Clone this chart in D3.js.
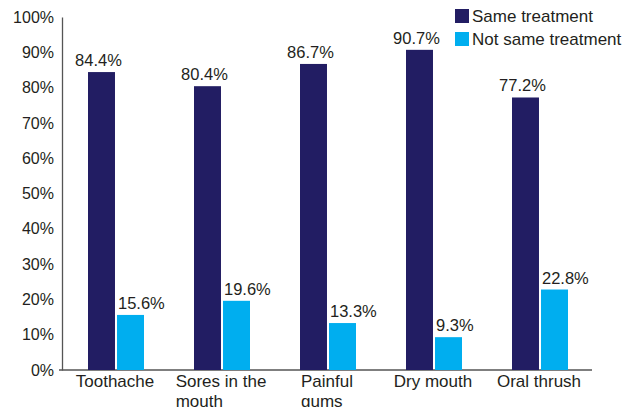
<!DOCTYPE html>
<html>
<head>
<meta charset="utf-8">
<script src="https://cdn.jsdelivr.net/npm/d3@7"></script>
<style>
  body { margin: 0; background: #fff; }
  text { font-family: "Liberation Sans", Arial, sans-serif; fill: #231f20; }
</style>
</head>
<body>
<div class="main"></div>
<script>
var categories = ["Toothache", "Sores in the mouth", "Painful gums", "Dry mouth", "Oral thrush"];
var labelLines = [["Toothache"], ["Sores in the", "mouth"], ["Painful", "gums"], ["Dry mouth"], ["Oral thrush"]];
var seriesNames = ["Same treatment", "Not same treatment"];
var same = [84.4, 80.4, 86.7, 90.7, 77.2];
var notSame = [15.6, 19.6, 13.3, 9.3, 22.8];
var yTicks = [0, 10, 20, 30, 40, 50, 60, 70, 80, 90, 100];
var colors = ["#221d63", "#00aeef"];

var width = 638;
var height = 407;
var plotLeft = 62, plotRight = 592, plotTop = 17, plotBottom = 370;

var svg = d3.select(".main")
    .append("svg")
        .attr("width", width)
        .attr("height", height);

var xScale = d3.scaleBand()
    .domain(categories)
    .range([plotLeft, plotRight]);

var inner = d3.scaleBand()
    .domain(seriesNames)
    .range([26, 82])
    .paddingInner(0.07);

var yScale = d3.scaleLinear()
    .domain([0, 100])
    .range([plotBottom, plotTop]);

// y axis
var yAxis = d3.axisLeft(yScale)
    .tickValues(yTicks)
    .tickSize(0)
    .tickPadding(8)
    .tickFormat(d => d + "%");

var yAxisGroup = svg.append("g")
    .attr("transform", "translate(" + plotLeft + ",0)")
    .call(yAxis);
yAxisGroup.select(".domain").attr("stroke", "#555").attr("stroke-width", 1.3);
yAxisGroup.selectAll("text")
    .style("font-size", "16px")
    .style("font-family", "'Liberation Sans', Arial, sans-serif")
    .attr("fill", "#231f20");

// x axis line
svg.append("line")
    .attr("x1", plotLeft - 3).attr("x2", plotRight)
    .attr("y1", plotBottom).attr("y2", plotBottom)
    .attr("stroke", "#555").attr("stroke-width", 1.3);

var rows = categories.map((c, i) => [
    { cat: c, s: seriesNames[0], v: same[i] },
    { cat: c, s: seriesNames[1], v: notSame[i] }
]);
var flat = rows.flat();

svg.selectAll("rect.bar")
    .data(flat)
    .enter()
    .append("rect")
    .attr("class", "bar")
    .attr("x", d => xScale(d.cat) + inner(d.s))
    .attr("y", d => yScale(d.v))
    .attr("width", inner.bandwidth())
    .attr("height", d => plotBottom - yScale(d.v))
    .attr("fill", d => colors[seriesNames.indexOf(d.s)]);

// dark bars: label centred; light bars: label starts at bar edge
svg.selectAll("text.val")
    .data(flat)
    .enter()
    .append("text")
    .attr("class", "val")
    .attr("x", d => d.s === seriesNames[0]
        ? xScale(d.cat) + inner(d.s) + inner.bandwidth() / 2 - 3
        : xScale(d.cat) + inner(d.s) + 1)
    .attr("y", d => yScale(d.v) - 6)
    .attr("text-anchor", d => d.s === seriesNames[0] ? "middle" : "start")
    .style("font-size", "16.5px")
    .text(d => d.v.toFixed(1) + "%");

// category labels: block centred on the band, lines left aligned
categories.forEach((c, i) => {
    var g = svg.append("g");
    var t = g.append("text").style("font-size", "17px");
    labelLines[i].forEach((line, j) => {
        t.append("tspan").attr("x", 0).attr("y", 387 + j * 20).text(line);
    });
    var w = t.node().getBBox().width;
    g.attr("transform", "translate(" + (xScale(c) + xScale.bandwidth() / 2 - w / 2) + ",0)");
});

// legend
var legend = svg.append("g").attr("transform", "translate(455,9)");
seriesNames.forEach((s, i) => {
    legend.append("rect")
        .attr("x", 0).attr("y", i * 23)
        .attr("width", 14).attr("height", 14)
        .attr("fill", colors[i]);
    legend.append("text")
        .attr("x", 17).attr("y", i * 23 + 13)
        .style("font-size", "17px")
        .text(s);
});
</script>
</body>
</html>
